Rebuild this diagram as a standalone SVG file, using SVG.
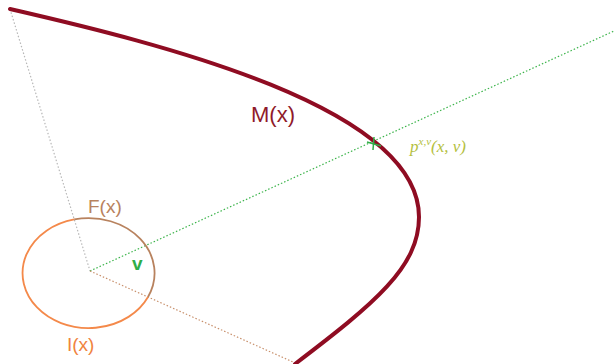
<svg xmlns="http://www.w3.org/2000/svg" width="614" height="364" viewBox="0 0 614 364">
<style>
.lbl{font-family:"Liberation Sans",Arial,sans-serif}
.dot{fill:none;stroke-width:1.2;stroke-dasharray:1.5 2}
</style>
<rect width="614" height="364" fill="#fff"/>
<g id="connectors">
<line class="dot" x1="10" y1="9" x2="90" y2="271" stroke="#b8b8b8"/>
<line class="dot" x1="90" y1="271" x2="614" y2="31" stroke="#3cb44b"/>
<line class="dot" x1="90" y1="271" x2="293" y2="362" stroke="#c8906c"/>
</g>
<g id="M">
<path d="M10,9 C160,43.5 419,107 419,217 C419,267 375,303.2 295,364" fill="none" stroke="#8f0c22" stroke-width="4" stroke-linecap="round"/>
<text class="lbl" x="251" y="122" font-size="22" fill="#8f1a2a">M(x)</text>
</g>
<g id="I">
<path d="M148,297 A66,55 0 1 1 74.2,219.4" fill="none" stroke="#f4894a" stroke-width="1.8"/>
<text class="lbl" x="67" y="351" font-size="19" fill="#f0843e">I(x)</text>
</g>
<g id="F">
<path d="M74.2,219.4 A66,55 0 0 1 148,297" fill="none" stroke="#b8825e" stroke-width="1.8"/>
<text class="lbl" x="88" y="213" font-size="19" fill="#b8825e">F(x)</text>
</g>
<g id="v">
<text class="lbl" x="132" y="270" font-size="19" font-weight="bold" fill="#2fae48">v</text>
</g>
<g id="p">
<g stroke="#2fae48" stroke-width="1.5">
<line x1="367" y1="142" x2="381" y2="146"/>
<line x1="374" y1="137" x2="373" y2="150"/>
</g>
<text x="410" y="152" font-family="'Liberation Serif',serif" font-style="italic" font-size="17" fill="#b4c040">p<tspan font-size="11" dy="-7">x,v</tspan><tspan dy="7">(x, v)</tspan></text>
</g>
</svg>
